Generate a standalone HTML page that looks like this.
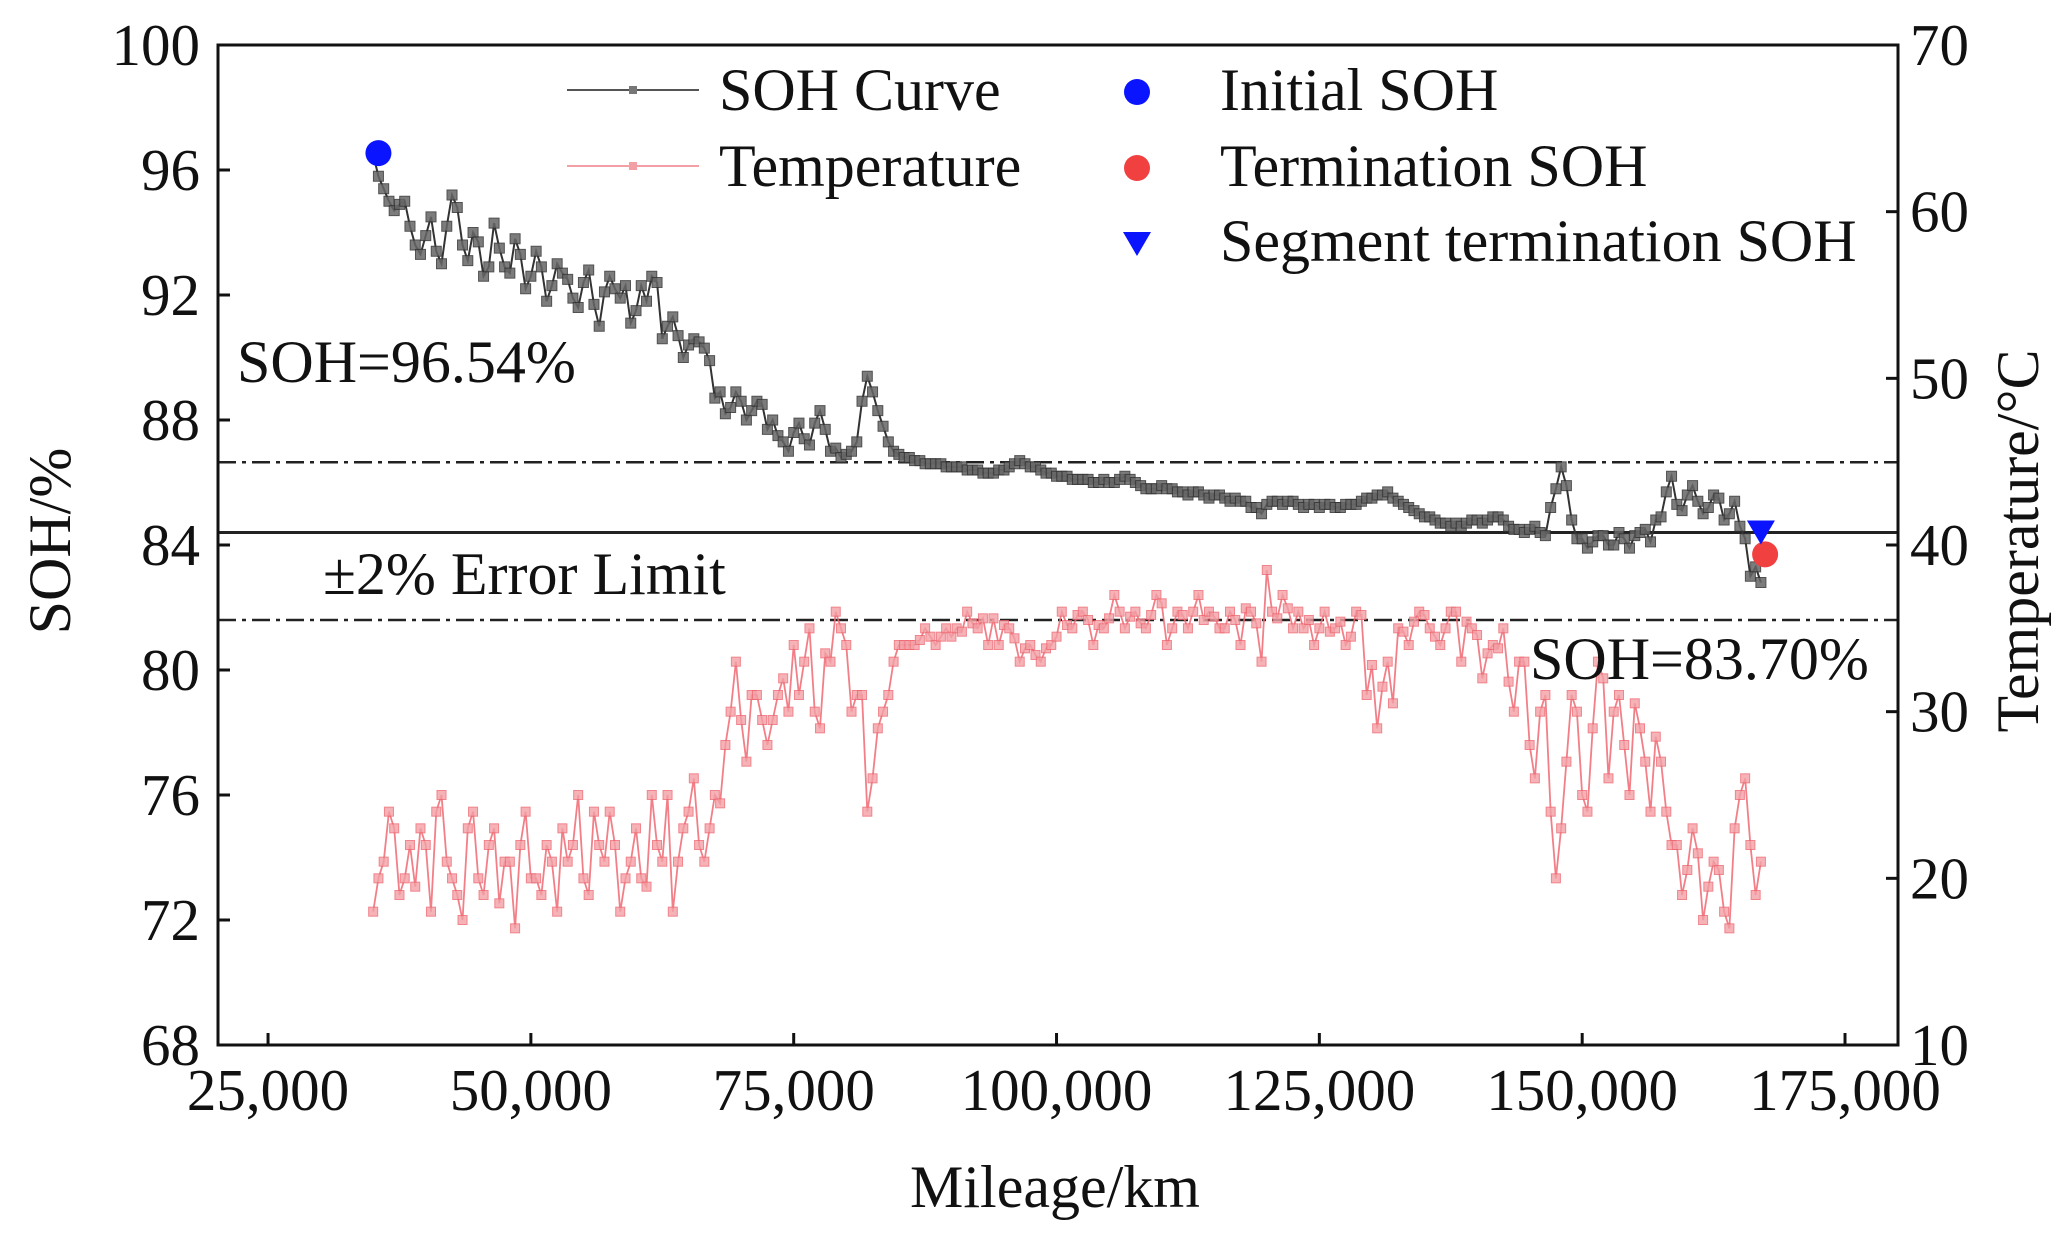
<!DOCTYPE html>
<html><head><meta charset="utf-8"><style>
html,body{margin:0;padding:0;background:#fff;}
svg{display:block;font-family:"Liberation Serif",serif;}
</style></head><body>
<svg id="chart" width="2058" height="1237" viewBox="0 0 2058 1237" xmlns="http://www.w3.org/2000/svg"></svg>
<script>
const mileageK = [];
for (let k = 35; k <= 167; k++) mileageK.push(k);
const mileageHalfK = [];
for (let k = 35.5; k <= 166.5; k++) mileageHalfK.push(k);
const sohValues = [96.5,95.4,94.7,95.0,93.6,93.9,93.4,94.2,94.8,93.1,93.7,92.9,93.5,92.7,93.3,92.6,92.9,92.3,92.7,91.9,92.4,91.7,92.1,92.2,92.3,91.5,91.8,92.4,91.0,90.7,90.4,90.5,89.9,88.9,88.4,88.6,88.3,88.5,88.0,87.3,87.6,87.4,87.9,87.7,87.1,86.9,87.3,89.4,88.3,87.3,86.9,86.8,86.7,86.6,86.6,86.5,86.5,86.4,86.3,86.3,86.4,86.6,86.6,86.5,86.3,86.2,86.2,86.1,86.1,86.0,86.0,86.1,86.1,85.9,85.8,85.9,85.8,85.7,85.7,85.6,85.6,85.5,85.5,85.4,85.2,85.3,85.4,85.4,85.3,85.3,85.2,85.3,85.2,85.3,85.4,85.5,85.6,85.5,85.3,85.1,84.9,84.8,84.7,84.7,84.7,84.8,84.8,84.9,84.6,84.5,84.5,84.4,85.2,86.5,84.8,84.2,84.1,84.3,84.0,84.2,84.3,84.5,84.8,85.7,85.3,85.6,85.4,85.2,85.5,85.0,84.6,83.0,82.8];
const sohHalfValues = [95.8,95.0,94.9,94.2,93.3,94.5,93.0,95.2,93.6,94.0,92.6,94.3,92.9,93.8,92.2,93.4,91.8,93.0,92.5,91.6,92.8,91.0,92.6,91.9,91.1,92.3,92.6,90.6,91.3,90.0,90.6,90.3,88.7,88.2,88.9,88.0,88.6,87.7,87.5,87.0,87.9,87.2,88.3,87.0,86.8,87.0,88.6,88.9,87.8,87.0,86.8,86.7,86.6,86.6,86.5,86.5,86.4,86.4,86.3,86.4,86.5,86.7,86.5,86.4,86.3,86.2,86.1,86.1,86.0,86.1,86.0,86.2,86.0,85.8,85.8,85.8,85.7,85.6,85.7,85.5,85.6,85.4,85.4,85.2,85.0,85.4,85.3,85.4,85.2,85.3,85.3,85.2,85.3,85.3,85.5,85.6,85.7,85.4,85.2,85.0,84.9,84.7,84.6,84.6,84.8,84.7,84.9,84.8,84.5,84.4,84.6,84.3,85.8,85.9,84.2,83.9,84.3,84.0,84.4,83.9,84.4,84.1,84.9,86.2,85.1,85.9,85.0,85.6,84.8,85.4,84.2,83.3];
const tempValues = [18,21,23,20,19.5,22,24,21,19,23,20,22,18.5,21,22,20,19,21,23,22,20,24,21,22,20,23,19.5,22,25,21,24,22,23,24.5,30,29.5,31,29.5,29.5,32,34,33,30,33.5,36,34,31,24,29,31,34,34,34.3,34.5,34.5,34.5,34.8,35.3,35.6,35.6,35.2,34.4,33.8,33.4,33.8,34.5,35.2,35.8,35.5,35.2,35.6,36,35.7,35.3,35.8,36.5,35,35.8,36,35.5,35.7,35,35.5,36.2,35.3,38.5,35.6,36.2,36,35.5,35,34.8,35.4,34.5,35.8,32.8,31.5,30.5,34.8,35.4,35.8,34.5,35,36,35.4,34.6,33.5,33.8,31.8,33,28,30,24,23,31,25,29,32,30,28,30.5,27,28.5,24,22,20.5,21.5,19.5,20.5,17,25,22,21];
const tempHalfValues = [20,24,19,22,23,18,25,20,17.5,24,19,23,21,17,24,20,22,18,21,25,19,22,24,18,21,20,25,21,18,23,26,21,25,28,33,27,31,28,31,30,31,35,29,33,35,30,31,26,30,33,34,34,35,34,35,35,36,35,34,34,35,33,34,33,34,36,35,36,34,35,37,35,36,35,37,34,36,35,37,36,35,36,34,36,33,36,37,35,35,34,36,35,34,36,31,29,33,35,34,36,35,34,36,33,35,32,34,35,30,33,26,31,20,27,30,24,33,26,31,25,29,24,27,22,19,23,17.5,21,18,23,26,19];
const xTicks = [25000,50000,75000,100000,125000,150000,175000];
const xTickLabels = ["25,000","50,000","75,000","100,000","125,000","150,000","175,000"];
const sohTicks = [68,72,76,80,84,88,92,96,100];
const tempTicks = [10,20,30,40,50,60,70];
const refLines = [86.65, 84.4, 81.6];
const initialSOH = [35500, 96.54];
const terminationSOH = [167400, 83.7];
const segmentSOH = [167000, 84.4];

const L=218,R=1898,T=45,B=1045;
const xS = v => L + (v-20240)/(180040-20240)*(R-L);
const yS = v => B - (v-68)/(100-68)*(B-T);
const yT = v => B - (v-10)/(70-10)*(B-T);
const svg = document.getElementById('chart');
const NS='http://www.w3.org/2000/svg';
function mk(tag, attrs, parent){const e=document.createElementNS(NS,tag);for(const k in attrs)e.setAttribute(k,attrs[k]);(parent||svg).appendChild(e);return e;}
function merge(xa, va, xb, vb){const out=[];xa.forEach((x,i)=>out.push([x,va[i]]));xb.forEach((x,i)=>{if(vb[i]!==undefined)out.push([x,vb[i]]);});out.sort((a,b)=>a[0]-b[0]);return out;}
const sohPts = merge(mileageK, sohValues, mileageHalfK, sohHalfValues);
const tempPts = merge(mileageK, tempValues, mileageHalfK, tempHalfValues);

refLines.forEach((v,i)=>{
  const ln = mk('line',{x1:L,x2:R,y1:yS(v),y2:yS(v),stroke:'#222','stroke-width':i===1?3:2.5,'stroke-dasharray':i===1?'none':'18,6,4,6'});
  
  
});

const tg = mk('g',{});


mk('polyline',{points:tempPts.map(p=>xS(p[0]*1000)+','+yT(p[1])).join(' '),fill:'none',stroke:'#f06872','stroke-width':1.8,opacity:0.85},tg);
tempPts.forEach(p=>{
  const r = mk('rect',{x:xS(p[0]*1000)-4.5,y:yT(p[1])-4.5,width:9,height:9,fill:'#f3a0a6',stroke:'#ee6670','stroke-width':1,opacity:0.8},tg);
  
  
});

const sg = mk('g',{});


mk('polyline',{points:sohPts.map(p=>xS(p[0]*1000)+','+yS(p[1])).join(' '),fill:'none',stroke:'#333','stroke-width':2},sg);
sohPts.forEach(p=>{
  const r = mk('rect',{x:xS(p[0]*1000)-5,y:yS(p[1])-5,width:10,height:10,fill:'#666',stroke:'#333','stroke-width':1,opacity:0.85},sg);
  
  
});

const m1 = mk('circle',{cx:xS(initialSOH[0]),cy:yS(initialSOH[1]),r:13,fill:'#0a14ff'});


const m2 = mk('circle',{cx:xS(terminationSOH[0]),cy:yS(terminationSOH[1]),r:13,fill:'#f04040'});


const sx=xS(segmentSOH[0]), sy=yS(segmentSOH[1]);
const m3 = mk('polygon',{points:`${sx-14},${sy-12} ${sx+14},${sy-12} ${sx},${sy+12}`,fill:'#0a14ff'});



const fr = mk('rect',{x:L,y:T,width:R-L,height:B-T,fill:'none',stroke:'#111','stroke-width':3});



const FS = 59;
xTicks.forEach((v,i)=>{
  mk('line',{x1:xS(v),x2:xS(v),y1:B,y2:B-12,stroke:'#111','stroke-width':3});
  const t = mk('text',{x:xS(v),y:1110,'font-size':FS,'text-anchor':'middle',fill:'#111'});
  t.textContent = xTickLabels[i];
  
  
});
sohTicks.forEach(v=>{
  mk('line',{x1:L,x2:L+12,y1:yS(v),y2:yS(v),stroke:'#111','stroke-width':3});
  const t = mk('text',{x:200,y:yS(v)+20,'font-size':FS,'text-anchor':'end',fill:'#111'});
  t.textContent = v;
  
  
});
tempTicks.forEach(v=>{
  mk('line',{x1:R,x2:R-12,y1:yT(v),y2:yT(v),stroke:'#111','stroke-width':3});
  const t = mk('text',{x:1910,y:yT(v)+20,'font-size':FS,'text-anchor':'start',fill:'#111'});
  t.textContent = v;
  
  
});

function txt(s,x,y,size,name,extra){const t=mk('text',Object.assign({x:x,y:y,'font-size':size,fill:'#111'},extra||{}));t.textContent=s;return t;}
txt('Mileage/km',1055,1207,60,'x-axis-title',{'text-anchor':'middle'});
txt('SOH/%',0,0,60,'left-axis-title',{'text-anchor':'middle',transform:'translate(70,541) rotate(-90)'});
txt('Temperature/°C',0,0,60,'right-axis-title',{'text-anchor':'middle',transform:'translate(2038,541) rotate(-90)'});
txt('SOH=96.54%',237,382,60,'initial-soh-annotation');
txt('±2% Error Limit',323,594,60,'error-limit-annotation');
txt('SOH=83.70%',1530,679,60,'termination-soh-annotation');

const lg = mk('g',{});


mk('line',{x1:567,x2:699,y1:90,y2:90,stroke:'#555','stroke-width':2},lg);
mk('rect',{x:629,y:86,width:8,height:8,fill:'#777'},lg);
mk('line',{x1:567,x2:699,y1:166,y2:166,stroke:'#f2a0a6','stroke-width':2},lg);
mk('rect',{x:629,y:162,width:8,height:8,fill:'#f2a0a6'},lg);
const l1=txt('SOH Curve',719,110,60,'legend-entry-soh-curve');lg.appendChild(l1);
const l2=txt('Temperature',719,186,60,'legend-entry-temperature');lg.appendChild(l2);
mk('circle',{cx:1137,cy:92,r:13,fill:'#0a14ff'},lg);
mk('circle',{cx:1137,cy:168,r:13,fill:'#f04040'},lg);
mk('polygon',{points:'1123,232 1151,232 1137,256',fill:'#0a14ff'},lg);
const l3=txt('Initial SOH',1220,110,60,'legend-entry-initial-soh');lg.appendChild(l3);
const l4=txt('Termination SOH',1220,186,60,'legend-entry-termination-soh');lg.appendChild(l4);
const l5=txt('Segment termination SOH',1220,261,60,'legend-entry-segment-termination-soh');lg.appendChild(l5);
</script>
</body></html>
